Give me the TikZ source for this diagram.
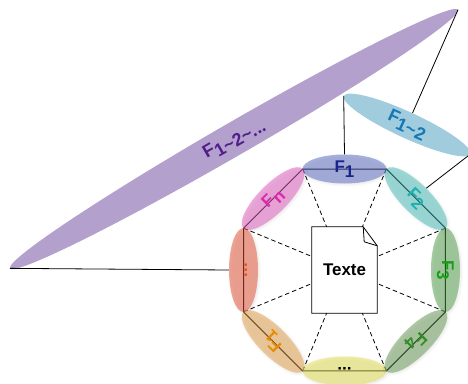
\documentclass[tikz,border=0pt]{standalone}
\usepackage{fontspec}
\setmainfont{Liberation Sans}
\usetikzlibrary{shapes.geometric,calc,shadows.blur}

\definecolor{fonefill}{RGB}{88,104,194}
\definecolor{fonetext}{RGB}{25,35,140}
\definecolor{ftwofill}{RGB}{70,190,186}
\definecolor{ftwotext}{RGB}{30,175,175}
\definecolor{fthreefill}{RGB}{82,158,74}
\definecolor{fthreetext}{RGB}{20,160,20}
\definecolor{ffourfill}{RGB}{100,150,80}
\definecolor{ffourtext}{RGB}{50,140,40}
\definecolor{bdotsfill}{RGB}{230,226,80}
\definecolor{fifill}{RGB}{230,160,70}
\definecolor{fitext}{RGB}{230,140,0}
\definecolor{ldotsfill}{RGB}{230,80,50}
\definecolor{ldotstext}{RGB}{230,80,30}
\definecolor{fnfill}{RGB}{226,90,190}
\definecolor{fntext}{RGB}{220,40,170}
\definecolor{ftwelvefill}{RGB}{160,204,222}
\definecolor{ftwelvetext}{RGB}{20,120,180}
\definecolor{fallfill}{RGB}{180,160,205}
\definecolor{falltext}{RGB}{80,30,140}

\newcommand{\Fsub}[1]{F\raisebox{-5bp}{#1}}

\begin{document}
\begin{tikzpicture}[x=1bp,y=1bp,
    facet/.style={ellipse, inner sep=0pt, minimum width=84bp, minimum height=29bp,
        text height=12bp, text depth=5bp, fill opacity=.5, text opacity=1,
        font=\bfseries\fontsize{17}{20}\selectfont,
        blur shadow={shadow xshift=1.2bp, shadow yshift=-1.2bp, shadow blur radius=2.5bp, shadow opacity=18}},
    big/.style={ellipse, inner sep=0pt, text height=12bp, text depth=5bp,
        font=\bfseries\fontsize{18}{21}\selectfont},
    link/.style={line width=.8bp},
    spoke/.style={line width=.8bp, dash pattern=on 4.5bp off 3bp}]
    \useasboundingbox (0,0) rectangle (468,383);

    \coordinate (C) at (344.5,113);
    \coordinate (V0) at ($(C)+(22.5:109.3)$);
    \coordinate (V1) at ($(C)+(67.5:109.3)$);
    \coordinate (V2) at ($(C)+(112.5:109.3)$);
    \coordinate (V3) at ($(C)+(157.5:109.3)$);
    \coordinate (V4) at ($(C)+(202.5:109.3)$);
    \coordinate (V5) at ($(C)+(247.5:109.3)$);
    \coordinate (V6) at ($(C)+(292.5:109.3)$);
    \coordinate (V7) at ($(C)+(337.5:109.3)$);

    % combined features
    \node[big, rotate=30, minimum width=517bp, minimum height=33bp, fill=fallfill, text=falltext]
        (FALL) at (234,244) {\Fsub{1\textasciitilde2\textasciitilde...}};
    \node[big, rotate=-24.7, minimum width=139bp, minimum height=26bp, fill=ftwelvefill, text=ftwelvetext]
        (F12) at (407,258) {\Fsub{1\textasciitilde2}};

    % octagon and document
    \draw[line width=1bp] (V0) -- (V1) -- (V2) -- (V3) -- (V4) -- (V5) -- (V6) -- (V7) -- cycle;

    \node[minimum width=65bp, minimum height=86bp, inner sep=0pt, font=\bfseries\fontsize{17}{20}\selectfont]
        (DOC) at (C) {Texte};
    \draw[link] (DOC.north west) -- ($(DOC.north east)+(-14,0)$) -- ($(DOC.north east)+(0,-19)$)
        -- (DOC.south east) -- (DOC.south west) -- cycle;
    \draw[link] ($(DOC.north east)+(-14,0)$) -- ($(DOC.north east)+(-13,-15)$) -- ($(DOC.north east)+(0,-19)$);

    \draw[spoke] (V0) -- (DOC);
    \draw[spoke] (V1) -- (DOC);
    \draw[spoke] (V2) -- (DOC);
    \draw[spoke] (V3) -- (DOC);
    \draw[spoke] (V4) -- (DOC);
    \draw[spoke] (V5) -- (DOC);
    \draw[spoke] (V6) -- (DOC);
    \draw[spoke] (V7) -- (DOC);

    % single features on the edges
    \node[facet, rotate=-90, fill=fthreefill, text=fthreetext] (F3) at ($(C)+(0:101)$) {\Fsub{3}};
    \node[facet, rotate=-45, fill=ftwofill, text=ftwotext] (F2) at ($(C)+(45:101)$) {\Fsub{2}};
    \node[facet, rotate=0, fill=fonefill, text=fonetext] (F1) at ($(C)+(90:101)$) {\Fsub{1}};
    \node[facet, rotate=45, fill=fnfill, text=fntext] (FN) at ($(C)+(135:101)$) {\Fsub{n}};
    \node[facet, rotate=90, fill=ldotsfill, text=ldotstext] (LD) at ($(C)+(180:101)$) {...};
    \node[facet, rotate=135, fill=fifill, text=fitext] (FI) at ($(C)+(225:101)$) {\Fsub{1}};
    \node[facet, rotate=180, fill=bdotsfill, text=black] (BD) at ($(C)+(270:101)$) {...};
    \node[facet, rotate=225, fill=ffourfill, text=ffourtext] (F4) at ($(C)+(315:101)$) {\Fsub{4}};

    \draw[link] (FALL.east) -- (F12.north);
    \draw[link] (FALL.west) -- (LD.north);
    \draw[link] (F12.west) -- (F1.north);
    \draw[link] (F12.east) -- (F2.north);
\end{tikzpicture}
\end{document}
